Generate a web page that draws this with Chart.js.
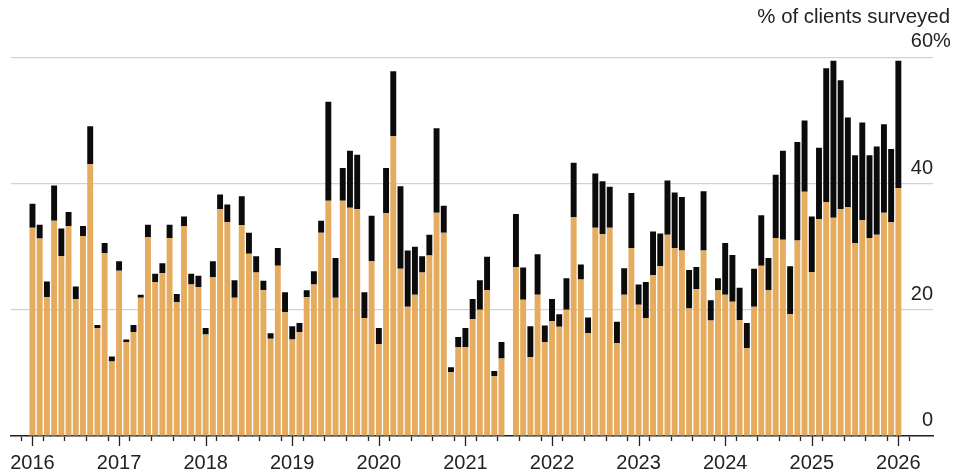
<!DOCTYPE html>
<html>
<head>
<meta charset="utf-8">
<script src="https://cdn.jsdelivr.net/npm/chart.js@4.4.1/dist/chart.umd.min.js"></script>
<style>
  html, body { margin: 0; padding: 0; background: #fff; }
  #wrap { position: relative; width: 958px; height: 473px; }
</style>
</head>
<body>
<div id="wrap"><canvas id="chart"></canvas></div>
<script>
// Monthly survey readings, January 2016 through January 2026
const startYear = 2016;
const months = [];
for (let i = 0; i < 121; i++) {
  months.push(`${startYear + Math.floor(i / 12)}-${String((i % 12) + 1).padStart(2, '0')}`);
}

// Lower (orange) part of each bar, % of clients surveyed
const orangeSeries = [
  33.0, 31.3, 22.0, 34.1, 28.5, 33.3, 21.7, 31.7, 43.1, 17.1, 29.0, 11.8,
  26.2, 14.9, 16.5, 21.9, 31.5, 24.4, 25.8, 31.4, 21.2, 33.3, 24.0, 23.6,
  16.1, 25.2, 36.0, 33.9, 21.9, 33.4, 28.9, 25.9, 23.1, 15.4, 27.0, 19.6,
  15.3, 16.5, 22.0, 24.0, 32.2, 37.3, 21.9, 37.3, 36.2, 36.0, 18.7, 27.7,
  14.6, 35.3, 47.5, 26.5, 20.5, 22.4, 25.9, 28.6, 35.4, 32.2, 10.1, 14.1,
  14.1, 18.5, 20.0, 23.1, 9.5, 12.3, null, 26.8, 21.6, 12.5, 22.4, 14.9,
  18.2, 17.3, 20.0, 34.7, 24.8, 16.3, 33.0, 32.0, 33.0, 14.7, 22.4, 29.8,
  20.8, 18.7, 25.5, 26.9, 31.9, 29.8, 29.4, 20.2, 23.3, 29.4, 18.3, 23.1,
  22.4, 21.3, 18.4, 13.9, 20.5, 27.0, 23.1, 31.4, 31.1, 19.3, 31.0, 38.7,
  26.0, 34.4, 37.1, 34.6, 36.0, 36.3, 30.6, 34.2, 31.4, 31.9, 35.4, 33.9,
  39.3
];

// Upper (black) part stacked on top, % of clients surveyed
const blackSeries = [
  3.8, 2.2, 2.5, 5.6, 4.4, 2.2, 2.0, 1.6, 6.0, 0.5, 1.6, 0.8,
  1.5, 0.4, 1.1, 0.5, 2.0, 1.3, 1.6, 2.1, 1.3, 1.5, 1.7, 1.8,
  1.0, 2.5, 2.3, 2.8, 2.8, 4.6, 3.3, 2.6, 1.5, 0.9, 2.8, 3.2,
  2.1, 1.4, 1.1, 2.1, 1.9, 15.7, 6.3, 5.2, 9.0, 8.6, 4.1, 7.2,
  2.5, 7.2, 10.3, 13.1, 8.9, 7.6, 2.6, 3.3, 13.4, 4.3, 0.8, 1.6,
  3.0, 3.2, 4.7, 5.3, 0.8, 2.6, null, 8.4, 5.1, 4.9, 6.4, 2.6,
  3.5, 2.0, 5.0, 8.6, 2.4, 2.5, 8.6, 8.4, 6.5, 3.4, 4.2, 8.7,
  3.2, 5.7, 6.9, 5.2, 8.6, 8.8, 8.5, 6.1, 3.5, 9.4, 3.2, 1.9,
  8.2, 7.4, 5.1, 4.0, 6.0, 8.0, 5.1, 10.0, 14.1, 7.6, 15.6, 11.3,
  8.8, 11.3, 21.2, 24.9, 20.4, 14.2, 13.9, 15.5, 13.1, 14.0, 14.0, 11.6,
  20.2
];

const yearLabels = ['2016', '2017', '2018', '2019', '2020', '2021', '2022', '2023', '2024', '2025', '2026'];
const yTickValues = [0, 20, 40, 60];

const FONT = '"Liberation Sans", Arial, Helvetica, sans-serif';
const TEXT = '#222';
const Y_LABEL_OFFSET = -15.5;

// Quarterly tick positions on the month axis
const quarterTicks = months.map((_, i) => i).filter(i => i % 3 === 0);

// Longer year ticks and the trailing "%" after the top y label
const axisExtras = {
  id: 'axisExtras',
  afterDraw(chart) {
    const { ctx, chartArea, scales } = chart;
    const x = scales.x, y = scales.y;
    ctx.save();
    ctx.strokeStyle = TEXT;
    ctx.lineWidth = 1.3;
    yearLabels.forEach((_, k) => {
      const px = Math.round(x.getPixelForValue(k * 12)) + 0.5;
      ctx.beginPath();
      ctx.moveTo(px, chartArea.bottom);
      ctx.lineTo(px, chartArea.bottom + 10);
      ctx.stroke();
    });
    ctx.font = `20px ${FONT}`;
    ctx.fillStyle = TEXT;
    ctx.textAlign = 'left';
    ctx.textBaseline = 'middle';
    ctx.fillText('%', chartArea.right, y.getPixelForValue(yTickValues[yTickValues.length - 1]) + Y_LABEL_OFFSET);
    ctx.restore();
  }
};

new Chart(document.getElementById('chart'), {
  type: 'bar',
  data: {
    datasets: [
      {
        label: 'Lower share',
        data: orangeSeries.map((v, i) => ({ x: i, y: v })),
        backgroundColor: '#e5ac60',
        barPercentage: 0.82,
        categoryPercentage: 1.0,
        borderWidth: 0
      },
      {
        label: 'Upper share',
        data: blackSeries.map((v, i) => ({ x: i, y: v })),
        backgroundColor: '#0b0b0b',
        barPercentage: 0.82,
        categoryPercentage: 1.0,
        borderWidth: 0
      }
    ]
  },
  options: {
    responsive: true,
    maintainAspectRatio: false,
    animation: false,
    layout: { padding: { left: 10, right: 8, top: 0, bottom: 0 } },
    plugins: {
      legend: { display: false },
      tooltip: { enabled: true },
      title: {
        display: true,
        text: '% of clients surveyed',
        align: 'end',
        color: TEXT,
        font: { family: FONT, size: 20.4, weight: 'normal' },
        padding: { top: 5, bottom: 28 }
      }
    },
    scales: {
      x: {
        type: 'linear',
        stacked: true,
        offset: false,
        min: -3,
        max: 124.8,
        afterBuildTicks: (scale) => { scale.ticks = quarterTicks.map(v => ({ value: v })); },
        afterFit: (scale) => { scale.height = 37; },
        grid: { drawOnChartArea: false, drawTicks: true, tickLength: 5, tickColor: TEXT, tickWidth: 1.3 },
        border: { display: true, color: TEXT, width: 1.6 },
        ticks: {
          autoSkip: false,
          maxRotation: 0,
          padding: 10,
          color: TEXT,
          font: { family: FONT, size: 20 },
          callback: (value) => (value % 12 === 0 ? yearLabels[value / 12] : '')
        }
      },
      y: {
        position: 'right',
        stacked: true,
        min: 0,
        max: 60,
        afterBuildTicks: (scale) => { scale.ticks = yTickValues.map(v => ({ value: v })); },
        afterFit: (scale) => { scale.width = 17; },
        grid: { color: '#d2d2d2', lineWidth: 1.2, drawTicks: false },
        border: { display: false },
        ticks: {
          mirror: true,
          padding: 0,
          labelOffset: Y_LABEL_OFFSET,
          color: TEXT,
          font: { family: FONT, size: 20 },
          callback: (value) => String(value)
        }
      }
    }
  },
  plugins: [axisExtras]
});
</script>
</body>
</html>
